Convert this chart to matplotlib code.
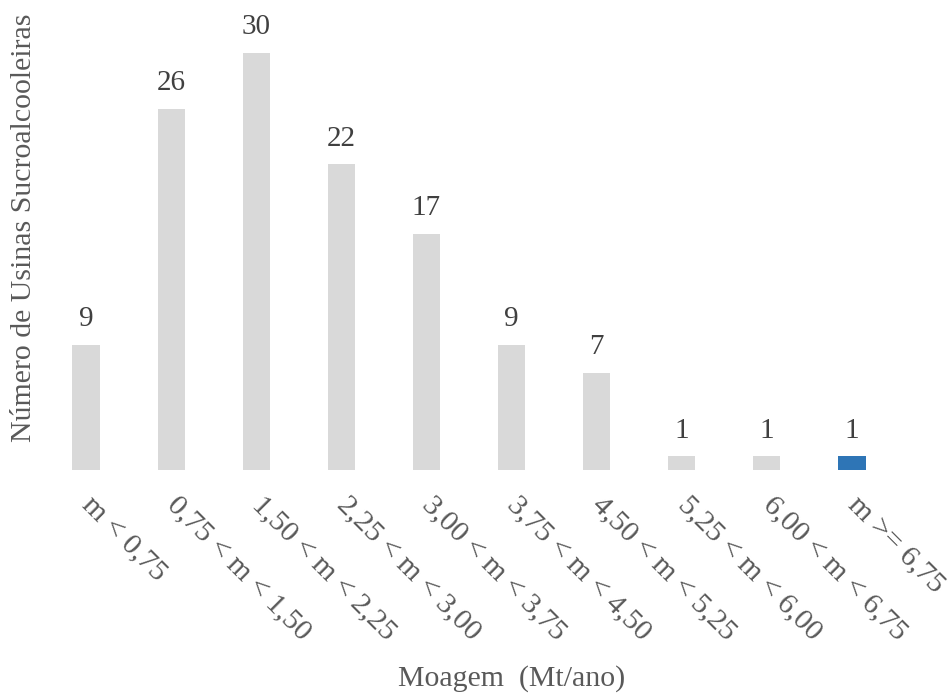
import matplotlib.pyplot as plt

plt.rcParams['font.family'] = ['Liberation Serif', 'DejaVu Serif']

faixas = ['m < 0,75', '0,75 < m < 1,50', '1,50 < m < 2,25', '2,25 < m < 3,00',
          '3,00 < m < 3,75', '3,75 < m < 4,50', '4,50 < m < 5,25',
          '5,25 < m < 6,00', '6,00 < m < 6,75', 'm >= 6,75']
usinas = [9, 26, 30, 22, 17, 9, 7, 1, 1, 1]
cores = ['#d9d9d9'] * 9 + ['#2e75b6']

fig = plt.figure(figsize=(9.5, 6.94), dpi=100)
ax = fig.add_axes([0.0458, 0.3228, 0.8958, 0.621])

x = list(range(len(usinas)))
barras = ax.bar(x, usinas, width=0.32, color=cores)
for b, v in zip(barras, usinas):
    ax.annotate(str(v), (b.get_x() + b.get_width() / 2, v), xytext=(0, 9),
                textcoords='offset points', ha='center', va='bottom',
                fontsize=21, color='#404040', clip_on=False)

ax.set_xlim(-0.5, len(usinas) - 0.5)
ax.set_ylim(0, 31)
ax.set_xticks(x)
ax.set_xticklabels(faixas, rotation=-45, ha='left', va='center',
                   rotation_mode='anchor', fontsize=21.5, color='#595959')
ax.tick_params(axis='x', length=0, pad=22)
ax.set_yticks([])
for s in ax.spines.values():
    s.set_visible(False)

ax.set_ylabel('Número de Usinas Sucroalcooleiras', fontsize=21.5, color='#595959')
ax.yaxis.set_label_coords(-0.008, 0.561)
fig.text(0.539, 0.023, 'Moagem  (Mt/ano)', ha='center', va='center',
         fontsize=21.5, color='#595959')

fig.savefig('out.png', dpi=100)
